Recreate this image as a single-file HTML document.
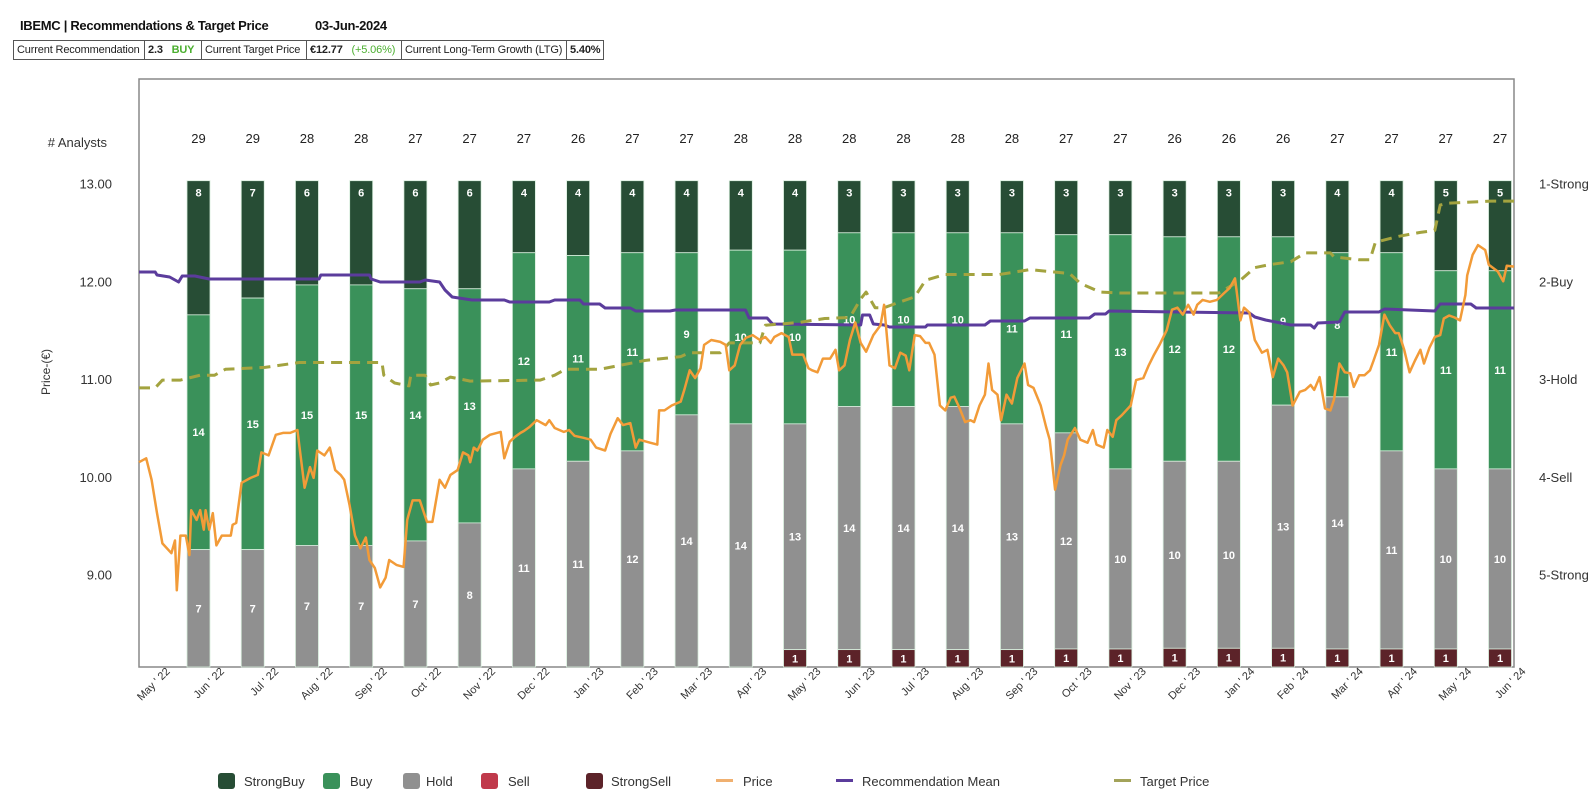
<!DOCTYPE html>
<html><head><meta charset="utf-8"><style>
body{margin:0;background:#fff;width:1592px;height:793px;overflow:hidden;font-family:"Liberation Sans",sans-serif;}
#title{position:absolute;left:20px;top:18px;font-size:13px;font-weight:bold;color:#111;letter-spacing:-0.3px;}
#date{position:absolute;left:315px;top:18px;font-size:13px;font-weight:bold;color:#111;letter-spacing:-0.3px;}
table{position:absolute;left:13px;top:40px;border-collapse:collapse;font-size:11px;color:#222;letter-spacing:-0.15px;}
td{border:1px solid #555;height:18px;padding:0 3px;white-space:nowrap;}
svg{position:absolute;left:0;top:0;}
</style></head><body>
<div id="title">IBEMC | Recommendations &amp; Target Price</div>
<div id="date">03-Jun-2024</div>
<table><tr>
<td style="width:124px">Current Recommendation</td>
<td style="width:50px"><b>2.3</b> &nbsp;&nbsp;<b style="color:#4caf30">BUY</b></td>
<td style="width:98px">Current Target Price</td>
<td style="width:88px"><b>€12.77</b> &nbsp;&nbsp;<b style="color:#4caf30;font-weight:normal">(+5.06%)</b></td>
<td style="width:158px">Current Long-Term Growth (LTG)</td>
<td style="width:30px"><b>5.40%</b></td>
</tr></table>
<svg id="chart" width="1592" height="793"></svg>
<script>
const months=["May ' 22","Jun ' 22","Jul ' 22","Aug ' 22","Sep ' 22","Oct ' 22","Nov ' 22","Dec ' 22","Jan ' 23","Feb ' 23","Mar ' 23","Apr ' 23","May ' 23","Jun ' 23","Jul ' 23","Aug ' 23","Sep ' 23","Oct ' 23","Nov ' 23","Dec ' 23","Jan ' 24","Feb ' 24","Mar ' 24","Apr ' 24","May ' 24","Jun ' 24"];
const strongBuy=[8,7,6,6,6,6,4,4,4,4,4,4,3,3,3,3,3,3,3,3,3,4,4,5,5];
const buy=[14,15,15,15,14,13,12,11,11,9,10,10,10,10,10,11,11,13,12,12,9,8,11,11,11];
const hold=[7,7,7,7,7,8,11,11,12,14,14,13,14,14,14,13,12,10,10,10,13,14,11,10,10];
const sell=[0,0,0,0,0,0,0,0,0,0,0,0,0,0,0,0,0,0,0,0,0,0,0,0,0];
const strongSell=[0,0,0,0,0,0,0,0,0,0,0,1,1,1,1,1,1,1,1,1,1,1,1,1,1];
const priceTicks=[13,12,11,10,9];
const recTicks=["1-Strong","2-Buy","3-Hold","4-Sell","5-Strong"];
const priceDays=[0,4,7,10,13,18,20,21,23,26,28,29,32,34,36,37,39,41,43,46,51,52,54,57,62,66,68,72,76,80,84,88,89,92,95,97,99,103,106,109,112,114,117,120,123,126,128,131,134,137,139,143,147,149,152,156,160,163,167,170,173,177,180,183,184,186,188,191,195,201,203,206,209,212,214,217,221,226,228,231,236,239,242,247,251,254,259,262,266,269,273,276,278,284,288,289,292,296,301,303,306,309,312,314,318,323,326,328,331,334,337,341,345,348,351,353,357,361,363,366,369,372,374,377,380,384,387,389,392,395,398,401,404,408,412,414,417,420,423,426,428,431,434,437,439,442,445,448,451,453,456,459,462,464,467,470,472,474,477,479,482,485,488,492,494,497,501,504,506,509,512,514,516,520,523,527,530,532,536,538,541,543,546,551,554,558,561,564,567,571,574,577,580,583,586,588,591,595,599,603,606,609,612,614,617,620,624,627,630,633,636,638,641,645,648,651,653,656,659,662,664,667,670,673,675,678,681,684,686,689,692,695,698,700,703,706,709,712,714,717,720,723,725,728,731,734,737,738,741,744,748,750,755,758,760,764];
const priceVals=[10.15,10.19,9.97,9.63,9.32,9.22,9.35,8.84,9.40,9.40,9.20,9.66,9.56,9.66,9.46,9.66,9.46,9.63,9.30,9.40,9.40,9.51,9.53,9.94,9.99,10.02,10.25,10.22,10.43,10.45,10.45,10.48,10.33,9.89,10.10,9.99,10.27,10.22,10.30,10.07,10.02,9.97,9.71,9.40,9.27,9.38,9.15,9.07,8.87,8.97,9.15,9.10,9.08,9.56,9.76,9.76,9.54,9.54,9.97,9.89,10.02,10.07,10.25,10.22,10.15,10.30,10.27,10.38,10.43,10.46,10.19,10.36,10.41,10.45,10.47,10.51,10.58,10.53,10.58,10.50,10.46,10.48,10.42,10.40,10.38,10.30,10.27,10.44,10.60,10.53,10.55,10.30,10.38,10.35,10.33,10.68,10.68,10.73,10.77,10.89,11.09,11.01,11.11,11.35,11.40,11.38,11.35,11.09,11.14,11.35,11.42,11.45,11.40,11.43,11.37,11.43,11.47,11.43,11.25,11.25,11.25,11.11,11.09,11.07,11.21,11.21,11.30,11.09,11.14,11.40,11.58,11.37,11.28,11.45,11.55,11.76,11.14,11.11,11.27,11.24,11.09,11.45,11.44,11.37,11.37,11.25,10.73,10.68,10.81,10.82,10.70,10.56,10.58,10.56,10.73,10.84,11.16,10.89,10.84,10.58,10.84,10.75,11.01,11.16,10.94,10.91,10.73,10.51,10.38,9.87,10.12,10.22,10.38,10.50,10.38,10.35,10.48,10.33,10.30,10.48,10.41,10.58,10.63,10.73,10.99,11.01,11.14,11.25,11.35,11.50,11.71,11.73,11.66,11.76,11.66,11.76,11.81,11.79,11.81,11.88,11.93,12.03,11.60,11.73,11.68,11.40,11.27,11.30,11.02,11.21,11.14,11.07,10.73,10.87,10.89,10.94,10.89,11.02,10.70,10.68,10.79,11.16,11.07,11.06,10.92,11.04,11.04,11.09,11.19,11.35,11.66,11.55,11.47,11.47,11.30,11.07,11.19,11.30,11.16,11.32,11.43,11.45,11.62,11.65,11.63,11.60,11.86,12.06,12.27,12.37,12.32,12.17,12.10,12.00,12.16,12.15];
const targetDays=[0,9,13,23,34,42,48,70,89,135,136,142,150,151,159,162,167,173,184,223,231,237,256,281,301,306,323,328,345,348,367,381,395,401,404,409,414,423,431,437,448,478,495,517,523,534,545,600,612,620,628,640,648,662,664,678,684,687,700,712,720,723,728,751,764];
const targetVals=[10.91,10.91,10.99,10.99,11.04,11.04,11.10,11.12,11.17,11.17,11.04,10.96,10.93,11.04,11.04,10.94,10.96,11.02,10.98,10.99,11.04,11.10,11.10,11.19,11.23,11.27,11.27,11.37,11.37,11.55,11.58,11.62,11.63,11.82,11.89,11.73,11.73,11.79,11.84,12.01,12.07,12.07,12.12,12.08,11.98,11.89,11.88,11.88,12.01,12.14,12.17,12.20,12.29,12.29,12.25,12.22,12.22,12.40,12.46,12.50,12.52,12.78,12.80,12.82,12.82];
const recDays=[0,9,10,17,22,24,31,39,100,101,128,129,134,156,159,167,170,174,185,203,206,228,231,245,247,256,259,273,276,295,298,337,339,349,352,401,402,406,408,414,417,437,438,470,473,492,495,528,531,537,539,617,620,626,640,651,653,655,667,670,689,692,720,723,740,743,764];
const recVals=[1.905,1.905,1.936,1.956,2.007,1.946,1.946,1.976,1.976,1.936,1.936,1.976,2.007,2.007,1.987,2.007,2.089,2.161,2.191,2.191,2.212,2.212,2.191,2.191,2.232,2.232,2.273,2.273,2.304,2.304,2.293,2.293,2.375,2.375,2.437,2.447,2.345,2.345,2.437,2.447,2.467,2.467,2.447,2.447,2.406,2.406,2.375,2.375,2.334,2.334,2.304,2.324,2.365,2.396,2.447,2.447,2.478,2.426,2.416,2.314,2.314,2.283,2.304,2.232,2.232,2.273,2.273];

const NS="http://www.w3.org/2000/svg";
const svg=document.getElementById('chart');
const L=139,R=1514,T=79,B=667,BARTOP=180.7,TOTALDAYS=764;
const xDay=d=>L+d/TOTALDAYS*(R-L);
const yPrice=p=>183.5+(13-p)*97.8;
const yRec=r=>183.5+(r-1)*97.8;
const barX=i=>L+59.5+i*54.23;
function mk(tag,attrs,parent){const e=document.createElementNS(NS,tag);for(const k in attrs)e.setAttribute(k,attrs[k]);(parent||svg).appendChild(e);return e;}
function txt(s,attrs,parent){const e=mk('text',attrs,parent);e.textContent=s;return e;}

const frame=mk('rect',{x:L,y:T,width:R-L,height:B-T,fill:'none',stroke:'#888','stroke-width':1.5});



const lab=txt('# Analysts',{x:107,y:147,'text-anchor':'end','font-size':13,fill:'#333'});



priceTicks.forEach(v=>{const t=txt(v.toFixed(2),{x:112,y:yPrice(v)+5,'text-anchor':'end','font-size':13,fill:'#333'});

});
recTicks.forEach((s,i)=>{const t=txt(s,{x:1539,y:yRec(i+1)+5,'font-size':13,fill:'#333'});

});
const yt=txt('Price-(€)',{x:0,y:0,'text-anchor':'middle','font-size':12,fill:'#333',transform:'translate(50,372) rotate(-90)'});



const segColors=['#274d35','#3a915a','#909090','#c0394b','#5c2329'];
const segNames=['strongbuy','buy','hold','sell','strongsell'];
strongBuy.forEach((_,i)=>{
  const vals=[strongBuy[i],buy[i],hold[i],sell[i],strongSell[i]];
  const tot=vals.reduce((a,b)=>a+b,0);
  const u=(B-BARTOP)/tot;
  const cx=barX(i);
  const g=mk('g',{});
  
  
  let y=BARTOP;
  vals.forEach((v,j)=>{
    if(!v)return;
    const h=v*u;
    const r=mk('rect',{x:cx-11.5,y:y,width:23,height:h,fill:segColors[j],stroke:'#d8eedd','stroke-width':0.8},g);
    
    
    const ty=j===0?y+16:y+h/2+4;
    const t=txt(String(v),{x:cx,y:ty,'text-anchor':'middle','font-size':11,'font-weight':'bold',fill:'#fff'},g);
    
    
    y+=h;
  });
  const n=txt(String(tot),{x:cx,y:143,'text-anchor':'middle','font-size':13,fill:'#222'});
  
  
});

months.forEach((m,i)=>{
  const x=170.6+i*54.23,y=672;
  const t=txt(m,{x:0,y:0,'text-anchor':'end','font-size':11,fill:'#333',transform:`translate(${x},${y}) rotate(-45)`});
  
  
});

function line(days,vals,yf,attrs,name){
  const pts=days.map((d,i)=>xDay(d).toFixed(1)+','+yf(vals[i]).toFixed(1)).join(' ');
  const p=mk('polyline',Object.assign({points:pts,fill:'none','stroke-linejoin':'round'},attrs));
  
  
}
line(recDays,recVals,yRec,{stroke:'#5b3c9c','stroke-width':3},'recommendation-mean-line');
line(targetDays,targetVals,yPrice,{stroke:'#a3a33f','stroke-width':3,'stroke-dasharray':'11,7'},'target-price-line');
line(priceDays,priceVals,yPrice,{stroke:'#f29b38','stroke-width':2.5},'price-line');

const leg=[['StrongBuy','sq',segColors[0],218,244],['Buy','sq',segColors[1],323,350],['Hold','sq',segColors[2],403,426],['Sell','sq',segColors[3],481,508],['StrongSell','sq',segColors[4],586,611],['Price','ln','#f0b070',716,743],['Recommendation Mean','ln','#5b3c9c',836,862],['Target Price','ln','#a3a35a',1114,1140]];
leg.forEach(l=>{
  const g=mk('g',{});
  
  
  if(l[1]==='sq')mk('rect',{x:l[3],y:773,width:17,height:16,rx:3,fill:l[2]},g);
  else mk('rect',{x:l[3],y:779,width:17,height:3,fill:l[2]},g);
  txt(l[0],{x:l[4],y:786,'font-size':13,fill:'#333'},g);
});
</script>
</body></html>
